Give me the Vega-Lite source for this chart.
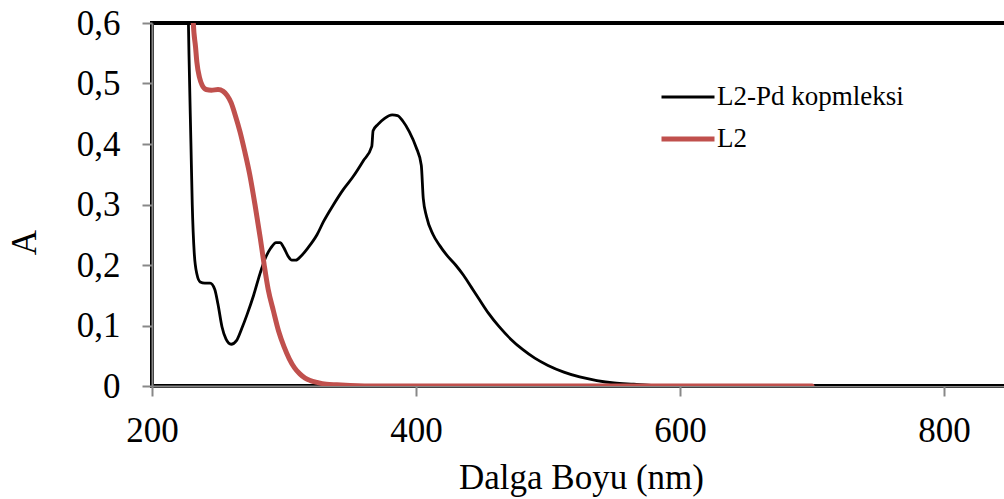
{
  "$schema": "https://vega.github.io/schema/vega-lite/v6.json",
  "autosize": {"type": "none"},
  "padding": {"left": 152, "top": 23, "right": 0, "bottom": 113},
  "width": 924,
  "height": 363,
  "background": "white",
  "config": {
    "font": "Liberation Serif",
    "view": {"stroke": "#000", "strokeWidth": 4},
    "axis": {"grid": false, "domainColor": "#888", "domainWidth": 2, "tickColor": "#888", "tickWidth": 2, "tickSize": 10, "labelFont": "Liberation Serif", "labelFontSize": 35, "labelColor": "#000", "titleFont": "Liberation Serif", "titleFontSize": 35, "titleFontWeight": "normal", "titleColor": "#000"}
  },
  "data": {"values": [
    {"s":"L2-Pd kopmleksi","nm":224,"A":1.0},
    {"s":"L2-Pd kopmleksi","nm":226,"A":0.8},
    {"s":"L2-Pd kopmleksi","nm":228,"A":0.55},
    {"s":"L2-Pd kopmleksi","nm":229.5,"A":0.4},
    {"s":"L2-Pd kopmleksi","nm":230.5,"A":0.3},
    {"s":"L2-Pd kopmleksi","nm":232,"A":0.22},
    {"s":"L2-Pd kopmleksi","nm":234,"A":0.185},
    {"s":"L2-Pd kopmleksi","nm":236.5,"A":0.172},
    {"s":"L2-Pd kopmleksi","nm":240,"A":0.17},
    {"s":"L2-Pd kopmleksi","nm":244,"A":0.17},
    {"s":"L2-Pd kopmleksi","nm":247.5,"A":0.16},
    {"s":"L2-Pd kopmleksi","nm":250,"A":0.135},
    {"s":"L2-Pd kopmleksi","nm":253,"A":0.098},
    {"s":"L2-Pd kopmleksi","nm":256,"A":0.078},
    {"s":"L2-Pd kopmleksi","nm":260,"A":0.069},
    {"s":"L2-Pd kopmleksi","nm":264,"A":0.075},
    {"s":"L2-Pd kopmleksi","nm":268,"A":0.095},
    {"s":"L2-Pd kopmleksi","nm":272,"A":0.118},
    {"s":"L2-Pd kopmleksi","nm":277,"A":0.15},
    {"s":"L2-Pd kopmleksi","nm":282,"A":0.187},
    {"s":"L2-Pd kopmleksi","nm":286,"A":0.212},
    {"s":"L2-Pd kopmleksi","nm":290,"A":0.228},
    {"s":"L2-Pd kopmleksi","nm":294,"A":0.237},
    {"s":"L2-Pd kopmleksi","nm":297,"A":0.237},
    {"s":"L2-Pd kopmleksi","nm":300,"A":0.228},
    {"s":"L2-Pd kopmleksi","nm":303,"A":0.215},
    {"s":"L2-Pd kopmleksi","nm":306,"A":0.208},
    {"s":"L2-Pd kopmleksi","nm":309,"A":0.208},
    {"s":"L2-Pd kopmleksi","nm":313,"A":0.215},
    {"s":"L2-Pd kopmleksi","nm":318,"A":0.228},
    {"s":"L2-Pd kopmleksi","nm":325,"A":0.25},
    {"s":"L2-Pd kopmleksi","nm":330,"A":0.272},
    {"s":"L2-Pd kopmleksi","nm":337,"A":0.298},
    {"s":"L2-Pd kopmleksi","nm":345,"A":0.325},
    {"s":"L2-Pd kopmleksi","nm":352,"A":0.345},
    {"s":"L2-Pd kopmleksi","nm":360,"A":0.372},
    {"s":"L2-Pd kopmleksi","nm":366.5,"A":0.396},
    {"s":"L2-Pd kopmleksi","nm":367.5,"A":0.422},
    {"s":"L2-Pd kopmleksi","nm":371,"A":0.432},
    {"s":"L2-Pd kopmleksi","nm":376,"A":0.442},
    {"s":"L2-Pd kopmleksi","nm":382,"A":0.448},
    {"s":"L2-Pd kopmleksi","nm":386,"A":0.447},
    {"s":"L2-Pd kopmleksi","nm":390,"A":0.438},
    {"s":"L2-Pd kopmleksi","nm":395,"A":0.42},
    {"s":"L2-Pd kopmleksi","nm":400,"A":0.395},
    {"s":"L2-Pd kopmleksi","nm":404,"A":0.365},
    {"s":"L2-Pd kopmleksi","nm":405.5,"A":0.31},
    {"s":"L2-Pd kopmleksi","nm":408,"A":0.28},
    {"s":"L2-Pd kopmleksi","nm":413,"A":0.25},
    {"s":"L2-Pd kopmleksi","nm":418,"A":0.232},
    {"s":"L2-Pd kopmleksi","nm":423,"A":0.217},
    {"s":"L2-Pd kopmleksi","nm":430,"A":0.2},
    {"s":"L2-Pd kopmleksi","nm":436,"A":0.183},
    {"s":"L2-Pd kopmleksi","nm":442,"A":0.163},
    {"s":"L2-Pd kopmleksi","nm":448,"A":0.143},
    {"s":"L2-Pd kopmleksi","nm":455,"A":0.12},
    {"s":"L2-Pd kopmleksi","nm":463,"A":0.098},
    {"s":"L2-Pd kopmleksi","nm":472,"A":0.077},
    {"s":"L2-Pd kopmleksi","nm":481,"A":0.06},
    {"s":"L2-Pd kopmleksi","nm":490,"A":0.046},
    {"s":"L2-Pd kopmleksi","nm":500,"A":0.034},
    {"s":"L2-Pd kopmleksi","nm":512,"A":0.023},
    {"s":"L2-Pd kopmleksi","nm":524,"A":0.015},
    {"s":"L2-Pd kopmleksi","nm":537,"A":0.009},
    {"s":"L2-Pd kopmleksi","nm":550,"A":0.005},
    {"s":"L2-Pd kopmleksi","nm":565,"A":0.003},
    {"s":"L2-Pd kopmleksi","nm":580,"A":0.001},
    {"s":"L2-Pd kopmleksi","nm":600,"A":0},
    {"s":"L2-Pd kopmleksi","nm":700,"A":0},
    {"s":"L2-Pd kopmleksi","nm":800,"A":0},
    {"s":"L2-Pd kopmleksi","nm":900,"A":0},
    {"s":"L2","nm":229,"A":0.9},
    {"s":"L2","nm":231.3,"A":0.6},
    {"s":"L2","nm":233,"A":0.56},
    {"s":"L2","nm":234,"A":0.535},
    {"s":"L2","nm":236,"A":0.51},
    {"s":"L2","nm":238,"A":0.497},
    {"s":"L2","nm":241,"A":0.49},
    {"s":"L2","nm":245,"A":0.489},
    {"s":"L2","nm":250,"A":0.49},
    {"s":"L2","nm":254,"A":0.487},
    {"s":"L2","nm":257,"A":0.48},
    {"s":"L2","nm":260,"A":0.468},
    {"s":"L2","nm":263,"A":0.448},
    {"s":"L2","nm":266.7,"A":0.42},
    {"s":"L2","nm":270,"A":0.39},
    {"s":"L2","nm":274,"A":0.35},
    {"s":"L2","nm":278,"A":0.3},
    {"s":"L2","nm":282,"A":0.245},
    {"s":"L2","nm":285,"A":0.2},
    {"s":"L2","nm":288,"A":0.16},
    {"s":"L2","nm":292,"A":0.124},
    {"s":"L2","nm":296,"A":0.09},
    {"s":"L2","nm":300,"A":0.065},
    {"s":"L2","nm":304,"A":0.045},
    {"s":"L2","nm":308,"A":0.03},
    {"s":"L2","nm":312,"A":0.02},
    {"s":"L2","nm":316,"A":0.013},
    {"s":"L2","nm":320,"A":0.009},
    {"s":"L2","nm":325,"A":0.006},
    {"s":"L2","nm":332,"A":0.003},
    {"s":"L2","nm":340,"A":0.002},
    {"s":"L2","nm":350,"A":0.001},
    {"s":"L2","nm":370,"A":0},
    {"s":"L2","nm":500,"A":0},
    {"s":"L2","nm":700,"A":0}
  ]},
  "mark": {"type": "line", "interpolate": "monotone", "clip": true, "strokeCap": "round"},
  "encoding": {
    "x": {"field": "nm", "type": "quantitative", "scale": {"domain": [200, 900], "nice": false},
      "axis": {"values": [200, 400, 600, 800], "labelFlush": false, "title": "Dalga Boyu (nm)", "titleX": 429, "titleY": 102, "titleAnchor": null, "titleAlign": "center", "titleBaseline": "alphabetic", "labelPadding": 17}},
    "y": {"field": "A", "type": "quantitative", "scale": {"domain": [0, 0.6], "nice": false},
      "axis": {"values": [0, 0.1, 0.2, 0.3, 0.4, 0.5, 0.6], "labelFlush": false, "labelExpr": "datum.value == 0 ? '0' : replace(format(datum.value, '.1f'), '.', ',')", "title": "A", "titleX": -117, "titleY": 219, "titleAngle": -90, "titleAlign": "center", "titleBaseline": "alphabetic", "labelPadding": 22}},
    "color": {"field": "s", "type": "nominal", "sort": ["L2-Pd kopmleksi", "L2"],
      "scale": {"domain": ["L2-Pd kopmleksi", "L2"], "range": ["#000000", "#C0504D"]},
      "legend": {"title": null, "orient": "none", "legendX": 507, "legendY": 46, "symbolType": "stroke", "symbolSize": 2809, "labelFontSize": 27, "labelFont": "Liberation Serif", "labelColor": "#000", "labelOffset": 0, "labelLimit": 0, "rowPadding": -3, "padding": 0}},
    "strokeWidth": {"field": "s", "type": "nominal", "sort": ["L2-Pd kopmleksi", "L2"],
      "scale": {"domain": ["L2-Pd kopmleksi", "L2"], "range": [2.8, 5]},
      "legend": {"title": null, "orient": "none", "legendX": 507, "legendY": 46, "symbolType": "stroke", "symbolSize": 2809, "labelFontSize": 27, "labelFont": "Liberation Serif", "labelColor": "#000", "labelOffset": 0, "labelLimit": 0, "rowPadding": -3, "padding": 0}}
  }
}
